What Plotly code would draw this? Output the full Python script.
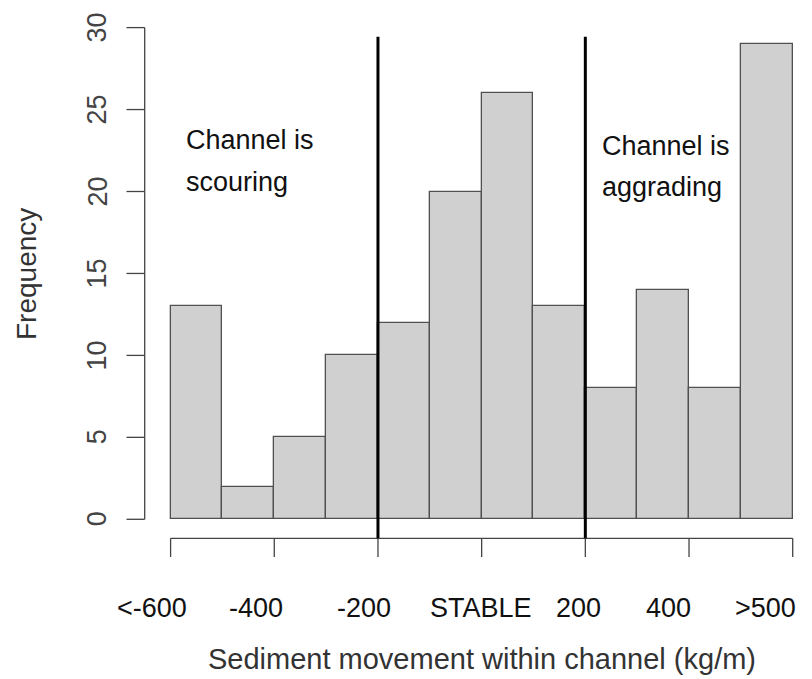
import plotly.graph_objects as go

# ---------------- data ----------------
BIN_EDGES = [-600, -500, -400, -300, -200, -100, 0, 100, 200, 300, 400, 500, 600]
COUNTS = [13, 2, 5, 10, 12, 20, 26, 13, 8, 14, 8, 29]
Y_TICKS = [0, 5, 10, 15, 20, 25, 30]
X_TICKS = [-600, -400, -200, 0, 200, 400, 600]
X_LABELS = ["<-600", "-400", "-200", "STABLE", "200", "400", ">500"]
THRESHOLDS = [-200, 200]
LEFT_NOTE = ["Channel is", "scouring"]
RIGHT_NOTE = ["Channel is", "aggrading"]
X_TITLE = "Sediment movement within channel (kg/m)"
Y_TITLE = "Frequency"

# ---------------- layout geometry (page pixels) ----------------
W, H = 812, 679
OFF = 8                            # default page body margin
X0_PX = 170.6                      # page pixel of x = -600
PX_PER_X = (792.7 - 170.6) / 1200.0
Y0_PX = 519.3                      # page pixel of y = 0
PX_PER_Y = 16.39


def dx(px):
    return BIN_EDGES[0] + (px - X0_PX) / PX_PER_X


def dy(py):
    return (Y0_PX - py) / PX_PER_Y


FONT = "Liberation Sans, Arial, Helvetica, sans-serif"
AXIS_COL = "#444444"

centers = [(a + b) / 2 for a, b in zip(BIN_EDGES[:-1], BIN_EDGES[1:])]
widths = [b - a for a, b in zip(BIN_EDGES[:-1], BIN_EDGES[1:])]

fig = go.Figure()
fig.add_trace(go.Bar(
    x=centers, y=COUNTS, width=widths,
    marker=dict(color="#D0D0D0", line=dict(color="#505050", width=1.3)),
    hoverinfo="x+y",
))

shapes = []
# y axis line + ticks
shapes.append(dict(type="line", xref="x", yref="y", x0=dx(144.7), x1=dx(144.7),
                   y0=Y_TICKS[0], y1=Y_TICKS[-1], line=dict(color=AXIS_COL, width=1.3)))
for v in Y_TICKS:
    shapes.append(dict(type="line", xref="x", yref="y", x0=dx(126.5), x1=dx(144.7),
                       y0=v, y1=v, line=dict(color=AXIS_COL, width=1.3)))
# x axis line + ticks
shapes.append(dict(type="line", xref="x", yref="y", x0=X_TICKS[0], x1=X_TICKS[-1],
                   y0=dy(538.3), y1=dy(538.3), line=dict(color=AXIS_COL, width=1.3)))
for v in X_TICKS:
    shapes.append(dict(type="line", xref="x", yref="y", x0=v, x1=v,
                       y0=dy(538.3), y1=dy(557), line=dict(color=AXIS_COL, width=1.3)))
# threshold lines
for t in THRESHOLDS:
    shapes.append(dict(type="line", xref="x", yref="y", x0=t, x1=t,
                       y0=dy(538.3), y1=dy(36.7), layer="above",
                       line=dict(color="black", width=3)))

ann = []
for v in Y_TICKS:
    ann.append(dict(x=dx(97), y=v, xref="x", yref="y", text=str(v), showarrow=False,
                    textangle=-90, xanchor="center", yanchor="middle", borderwidth=0, borderpad=0,
                    font=dict(family=FONT, size=27, color=AXIS_COL)))
ann.append(dict(x=dx(26), y=dy(274), xref="x", yref="y", text=Y_TITLE, showarrow=False,
                textangle=-90, xanchor="center", yanchor="middle", borderwidth=0, borderpad=0,
                font=dict(family=FONT, size=28, color="#333333")))

LABEL_PX = [152, 256, 364, 481, 578, 668, 765]
for lab, px in zip(X_LABELS, LABEL_PX):
    ann.append(dict(x=dx(px), y=dy(607.5), xref="x", yref="y", text=lab, showarrow=False,
                    xanchor="center", yanchor="middle", borderwidth=0, borderpad=0,
                    font=dict(family=FONT, size=27, color="#111111")))
ann.append(dict(x=dx(482), y=dy(659), xref="x", yref="y", text=X_TITLE, showarrow=False,
                xanchor="center", yanchor="middle", borderwidth=0, borderpad=0,
                font=dict(family=FONT, size=29, color="#333333")))

for txt, px, py in [(LEFT_NOTE[0], 186, 139.6), (LEFT_NOTE[1], 186, 181.6),
                    (RIGHT_NOTE[0], 602, 145.6), (RIGHT_NOTE[1], 602, 186.6)]:
    ann.append(dict(x=dx(px), y=dy(py), xref="x", yref="y", text=txt, showarrow=False,
                    xanchor="left", yanchor="middle", borderwidth=0, borderpad=0,
                    font=dict(family=FONT, size=27, color="#111111")))

fig.update_layout(
    width=W - OFF, height=H - OFF,
    margin=dict(l=0, r=0, t=0, b=0, pad=0),
    paper_bgcolor="white", plot_bgcolor="white",
    showlegend=False, bargap=0,
    xaxis=dict(range=[dx(OFF), dx(W)], visible=False, fixedrange=True),
    yaxis=dict(range=[dy(H), dy(OFF)], visible=False, fixedrange=True),
    shapes=shapes, annotations=ann,
)

fig.write_html("out.html")
